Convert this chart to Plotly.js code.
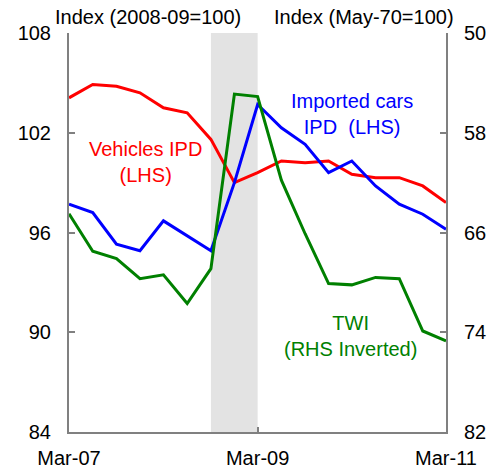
<!DOCTYPE html>
<html>
<head>
<meta charset="utf-8">
<script src="https://cdn.plot.ly/plotly-3.0.1.min.js"></script>
<style>html,body{margin:0;padding:0;background:#fff;}#chart{width:494px;height:470px;}</style>
</head>
<body>
<div id="chart"></div>
<script>
// Quarterly dates, Mar-07 to Mar-11
var quarters = ["2007-03-01","2007-06-01","2007-09-01","2007-12-01","2008-03-01","2008-06-01","2008-09-01","2008-12-01",
                "2009-03-01","2009-06-01","2009-09-01","2009-12-01","2010-03-01","2010-06-01","2010-09-01","2010-12-01","2011-03-01"];
// Vehicles IPD (LHS, Index 2008-09=100)
var vehiclesIPD = [104.1,104.9,104.8,104.4,103.5,103.2,101.6,99.0,99.6,100.3,100.2,100.3,99.5,99.3,99.3,98.8,97.8];
// Imported cars IPD (LHS)
var importedCarsIPD = [97.7,97.2,95.3,94.9,96.7,95.8,94.9,99.0,103.7,102.3,101.3,99.6,100.3,98.8,97.7,97.1,96.2];
// TWI (RHS inverted, Index May-70=100)
var twi = [64.5,67.5,68.1,69.7,69.4,71.7,68.9,54.9,55.1,61.8,66.1,70.1,70.2,69.6,69.7,73.9,74.7];
// Shaded period
var shadeStart = "2008-09-01", shadeEnd = "2009-03-01";
// Tick labels
var xTickVals = ["2007-03-01","2009-03-01","2011-03-01"];
var xTickText = ["Mar-07","Mar-09","Mar-11"];
var leftTicks = [84,90,96,102,108];
var rightTicks = [50,58,66,74,82];

var FONT = "Liberation Sans, Arial, sans-serif";
var traces = [
  {x: quarters, y: vehiclesIPD, type: "scatter", mode: "lines", line: {color: "#ff0000", width: 3}, yaxis: "y", name: "Vehicles IPD"},
  {x: quarters, y: importedCarsIPD, type: "scatter", mode: "lines", line: {color: "#0000ff", width: 3}, yaxis: "y", name: "Imported cars IPD"},
  {x: quarters, y: twi, type: "scatter", mode: "lines", line: {color: "#008000", width: 3}, yaxis: "y2", name: "TWI"}
];
var W = 377, H = 399, L = 69, T = 33;
function px(x){return (x - L)/W;}
function py(y){return (T + H - y)/H;}
var layout = {
  width: 494, height: 470,
  margin: {l: 69, r: 48, t: 33, b: 38, pad: 0},
  paper_bgcolor: "#fff", plot_bgcolor: "#fff",
  showlegend: false,
  font: {family: FONT, size: 20, color: "#000"},
  xaxis: {
    type: "date", range: ["2007-03-01","2011-03-01"],
    tickvals: xTickVals, ticktext: xTickText,
    ticks: "inside", ticklen: 5, tickwidth: 2, tickcolor: "#808080",
    showline: true, linecolor: "#808080", linewidth: 2,
    showgrid: false, zeroline: false, ticklabelstandoff: 7,
    tickfont: {family: FONT, size: 20, color: "#000"}
  },
  yaxis: {
    range: [84,108], tickvals: leftTicks,
    ticks: "inside", ticklen: 6, tickwidth: 2, tickcolor: "#808080",
    showline: true, linecolor: "#808080", linewidth: 2,
    showgrid: false, zeroline: false, ticklabelstandoff: 12,
    tickfont: {family: FONT, size: 20, color: "#000"}
  },
  yaxis2: {
    range: [82,50], tickvals: rightTicks, overlaying: "y", side: "right",
    ticks: "inside", ticklen: 6, tickwidth: 2, tickcolor: "#808080",
    showline: true, linecolor: "#808080", linewidth: 2,
    showgrid: false, zeroline: false, ticklabelstandoff: 12,
    tickfont: {family: FONT, size: 20, color: "#000"}
  },
  shapes: [{type: "rect", xref: "x", yref: "paper", x0: shadeStart, x1: shadeEnd, y0: 0, y1: 1,
            fillcolor: "#e3e3e3", line: {width: 0}, layer: "below"}],
  annotations: [
    {text: "Index (2008-09=100)", xref: "paper", yref: "paper", x: px(53), y: py(17), xanchor: "left", yanchor: "middle", showarrow: false, font: {family: FONT, size: 20, color: "#000"}},
    {text: "Index (May-70=100)", xref: "paper", yref: "paper", x: px(272), y: py(17), xanchor: "left", yanchor: "middle", showarrow: false, font: {family: FONT, size: 20, color: "#000"}},
    {text: "Vehicles IPD<br>(LHS)", xref: "paper", yref: "paper", x: px(145), y: py(162), xanchor: "center", yanchor: "middle", showarrow: false, font: {family: FONT, size: 20, color: "#ff0000"}},
    {text: "Imported cars<br>IPD  (LHS)", xref: "paper", yref: "paper", x: px(352), y: py(114), xanchor: "center", yanchor: "middle", showarrow: false, font: {family: FONT, size: 20, color: "#0000ff"}},
    {text: "TWI<br>(RHS Inverted)", xref: "paper", yref: "paper", x: px(350), y: py(336), xanchor: "center", yanchor: "middle", showarrow: false, font: {family: FONT, size: 20, color: "#008000"}}
  ]
};
Plotly.newPlot("chart", traces, layout, {displayModeBar: false, staticPlot: true});
</script>
</body>
</html>
